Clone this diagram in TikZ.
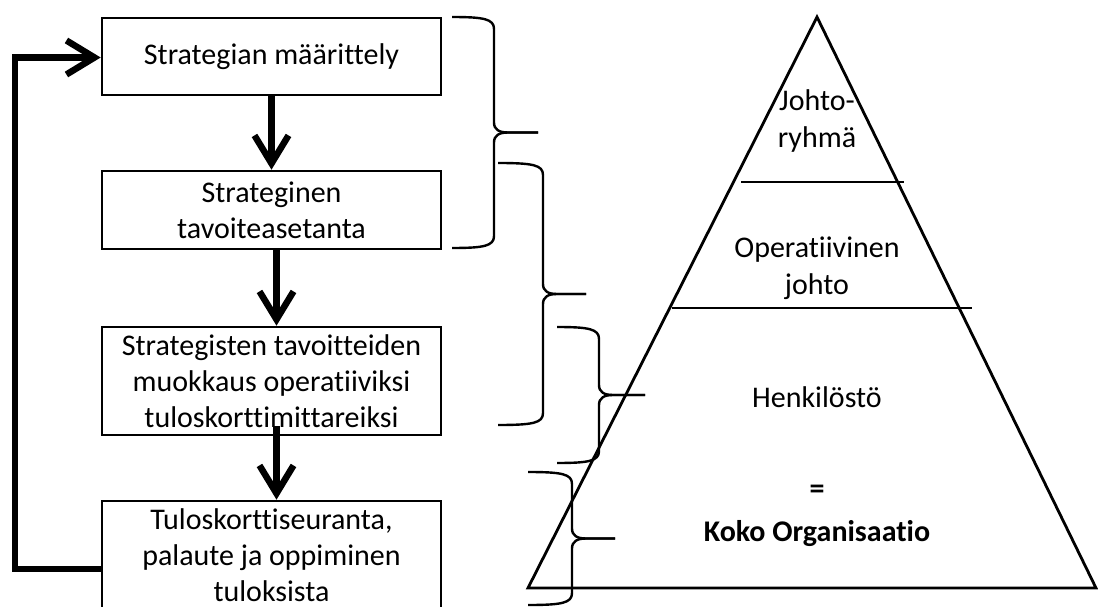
\documentclass[tikz,border=0pt]{standalone}
\usepackage{fontspec}
\setmainfont{Carlito}[Ligatures=NoCommon]
\usetikzlibrary{arrows.meta}
\tikzset{
  box/.style={draw, line width=2.6pt, minimum width=339pt, align=center, inner sep=0pt,
    font=\fontsize{30}{36}\selectfont},
  flow/.style={line width=6.5pt, line join=miter, -{Straight Barb[length=28pt,width=34pt]}},
  bracel/.style={line width=2.4pt},
  pyr/.style={line width=2.8pt},
  lbl/.style={font=\fontsize{30}{37}\selectfont, align=center, inner sep=0pt},
  lblb/.style={font=\fontsize{30}{37}\selectfont\bfseries, align=center, inner sep=0pt},
}
\newcommand\mybrace[5]{% left, vertical, tip, top, bottom
  \pgfmathsetmacro\bm{(#4+#5)/2}
  \draw[bracel] (#1,#4) .. controls (#2-10,#4) and (#2,#4+2) .. (#2,#4+12)
    -- (#2,\bm-10) .. controls (#2,\bm-3) and (#2+5,\bm) .. (#2+14,\bm) -- (#3,\bm);
  \draw[bracel] (#3,\bm) -- (#2+14,\bm) .. controls (#2+5,\bm) and (#2,\bm+3) .. (#2,\bm+10)
    -- (#2,#5-12) .. controls (#2,#5-2) and (#2-10,#5) .. (#1,#5);
}
\begin{document}
\begin{tikzpicture}[x=1pt,y=-1pt]
\useasboundingbox (0,0) rectangle (1098,607);
\clip (0,0) rectangle (1098,607);

% flow boxes
\node[box, minimum height=77pt]  (b1) at (271.5,56.5) {Strategian määrittely};
\node[box, minimum height=78pt]  (b2) at (271.5,210) {Strateginen\\tavoiteasetanta};
\node[box, minimum height=108pt] (b3) at (271.5,381) {Strategisten tavoitteiden\\muokkaus operatiiviksi\\tuloskorttimittareiksi};
\node[box, minimum height=108pt] (b4) at (271.5,555) {Tuloskorttiseuranta,\\palaute ja oppiminen\\tuloksista};

% arrows
\draw[flow] (b1.south) -- (b2.north);
\draw[flow] ([xshift=5pt]b2.south) -- ([xshift=5pt]b3.north);
\draw[flow] ([xshift=5pt,yshift=10pt]b3.south) -- ([xshift=5pt]b4.north);

% feedback loop
\coordinate (lc) at (15,569);
\draw[flow] ([yshift=-14pt]b4.west) -- (lc) |- ([yshift=-1pt]b1.west);

% braces
\mybrace{452}{494}{538}{17}{248}
\mybrace{498}{543}{586}{163}{425}
\mybrace{557}{599}{645}{327}{463}
\mybrace{528}{572}{615}{472}{605}

% pyramid
\coordinate (apex) at (817,17);
\coordinate (bl) at (528,588);
\coordinate (br) at (1096,588);
\draw[pyr, line join=miter] (bl) -- (apex) -- (br) -- cycle;
\draw[pyr] (741,182) -- (904,182);
\draw[pyr] (672,308) -- (972,308);

\node[lbl]  (t1) at (817,121.5) {Johto-\\ryhmä};
\node[lbl]  (t2) at (817,268.5) {Operatiivinen\\johto};
\node[lbl]  (t3) at (817,397) {Henkilöstö};
\node[lblb] (t4) at (817,492) {=};
\node[lblb] (t5) at (817,534) {Koko Organisaatio};
\end{tikzpicture}
\end{document}
